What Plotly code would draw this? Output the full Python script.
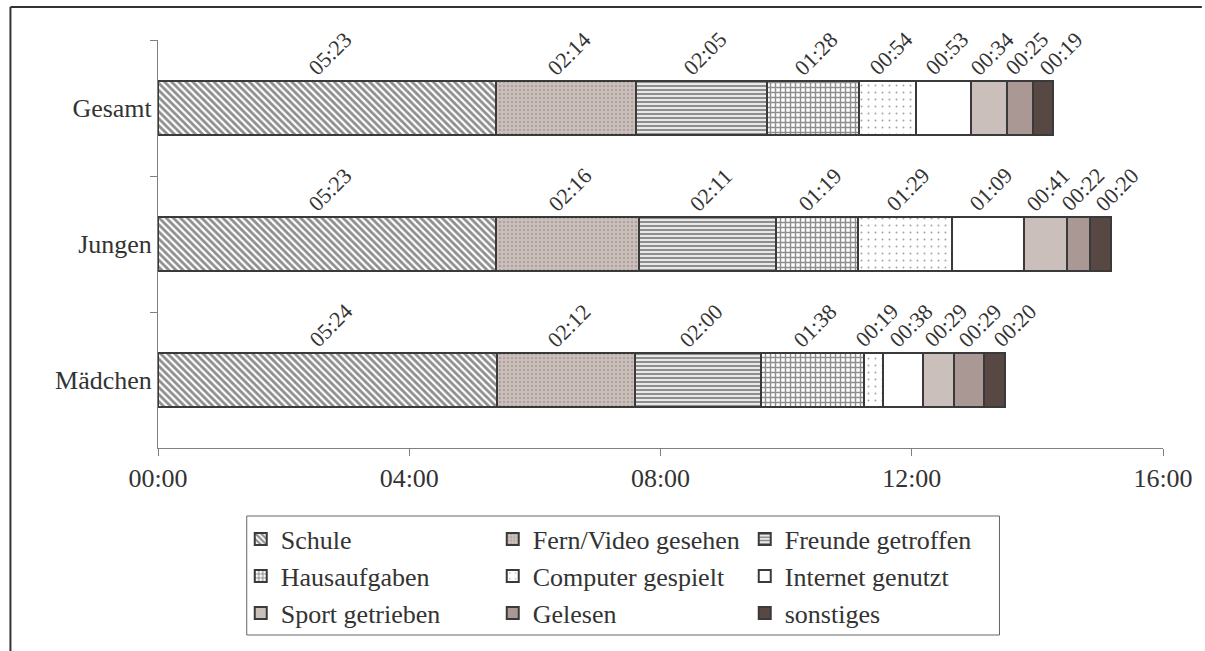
import plotly.graph_objects as go

# ---------------- data ----------------
categories = ["Gesamt", "Jungen", "Mädchen"]
activities = ["Schule", "Fern/Video gesehen", "Freunde getroffen", "Hausaufgaben",
              "Computer gespielt", "Internet genutzt", "Sport getrieben", "Gelesen", "sonstiges"]
schule = ["05:23", "05:23", "05:24"]
fernsehen = ["02:14", "02:16", "02:12"]
freunde = ["02:05", "02:11", "02:00"]
hausaufgaben = ["01:28", "01:19", "01:38"]
computer = ["00:54", "01:29", "00:19"]
internet = ["00:53", "01:09", "00:38"]
sport = ["00:34", "00:41", "00:29"]
gelesen = ["00:25", "00:22", "00:29"]
sonstiges = ["00:19", "00:20", "00:20"]
x_tickvals = [0, 4, 8, 12, 16]
x_ticktext = ["00:00", "04:00", "08:00", "12:00", "16:00"]

series = [schule, fernsehen, freunde, hausaufgaben, computer, internet, sport, gelesen, sonstiges]


def to_hours(s):
    h, m = s.split(":")
    return int(h) + int(m) / 60.0


# ---------------- styles ----------------
EDGE = "#3a3a3a"
styles = [
    dict(color="white", pattern=dict(shape="\\", fgcolor="#1e1e1e", bgcolor="white", size=5, solidity=0.55)),
    dict(color="#cabebb", pattern=dict(shape=".", fgcolor="#7e7370", bgcolor="#cabebb", size=4, solidity=0.2)),
    dict(color="white", pattern=dict(shape="-", fgcolor="#1e1e1e", bgcolor="white", size=4, solidity=0.6)),
    dict(color="white", pattern=dict(shape="+", fgcolor="#1e1e1e", bgcolor="white", size=5, solidity=0.5)),
    dict(color="white", pattern=dict(shape=".", fgcolor="#444444", bgcolor="white", size=7, solidity=0.06)),
    dict(color="white"),
    dict(color="#cbbfbb"),
    dict(color="#a99894"),
    dict(color="#574844"),
]
legend_rows = ["legend", "legend", "legend", "legend2", "legend2", "legend2", "legend3", "legend3", "legend3"]

W, H = 1205, 651
ML, MR, MT, MB = 158, 39, 40, 203
PW, PH = W - ML - MR, H - MT - MB


def px_x(px):
    return (px - ML) / PW


def px_y(py):
    return (H - MB - py) / PH


FONT = "Liberation Serif, Times New Roman, serif"
TXT = "#333333"

fig = go.Figure()
for name, vals, st, lg in zip(activities, series, styles, legend_rows):
    marker = dict(color=st["color"], line=dict(color=EDGE, width=2))
    if "pattern" in st:
        marker["pattern"] = st["pattern"]
    fig.add_trace(go.Bar(
        y=categories, x=[to_hours(v) for v in vals], orientation="h",
        name=name, marker=marker, legend=lg, hoverinfo="skip",
    ))

# ---------------- rotated value labels ----------------
annotations = []
min_gap = 0.55  # hours between label centres
for ci, cat in enumerate(categories):
    start = 0.0
    prev = -1e9
    for vals in series:
        v = to_hours(vals[ci])
        c = start + v / 2
        pos = max(c, prev + min_gap)
        prev = pos
        annotations.append(dict(
            x=pos, y=cat, xref="x", yref="y", text=vals[ci], showarrow=False,
            textangle=-45, xanchor="center", yanchor="bottom", yshift=25, xshift=3,
            font=dict(family=FONT, size=22, color=TXT),
        ))
        start += v

# ---------------- shapes: outer frame + legend box ----------------
shapes = [
    dict(type="line", xref="paper", yref="paper", x0=px_x(10), y0=px_y(7), x1=px_x(1205), y1=px_y(7),
         line=dict(color="#333333", width=2)),
    dict(type="line", xref="paper", yref="paper", x0=px_x(10), y0=px_y(7), x1=px_x(10), y1=px_y(651),
         line=dict(color="#333333", width=2)),
    dict(type="rect", xref="paper", yref="paper", x0=px_x(247), y0=px_y(516), x1=px_x(1002), y1=px_y(635),
         line=dict(color="#666666", width=1)),
]

leg_common = dict(orientation="h", xanchor="left", yanchor="middle", entrywidth=207,
                  entrywidthmode="pixels", traceorder="normal",
                  font=dict(family=FONT, size=26, color=TXT),
                  bgcolor="rgba(0,0,0,0)", borderwidth=0, x=px_x(241))

fig.update_layout(
    width=W, height=H,
    margin=dict(l=ML, r=MR, t=MT, b=MB),
    paper_bgcolor="white", plot_bgcolor="white",
    barmode="stack", bargap=0.6,
    font=dict(family=FONT, size=26, color=TXT),
    xaxis=dict(range=[0, 16], tickvals=x_tickvals, ticktext=x_ticktext, showgrid=False, zeroline=False,
               showline=True, linecolor="#808080", linewidth=1, ticks="outside", ticklen=7,
               tickcolor="#808080", tickfont=dict(family=FONT, size=26, color=TXT)),
    yaxis=dict(type="category", categoryorder="array", categoryarray=categories, range=[2.5, -0.5],
               showgrid=False, zeroline=False, showline=True, linecolor="#808080", linewidth=1,
               ticks="outside", ticklen=7, tickcolor="#808080", tickson="boundaries",
               tickfont=dict(family=FONT, size=26, color=TXT)),
    legend=dict(leg_common, y=px_y(539)),
    legend2=dict(leg_common, y=px_y(576)),
    legend3=dict(leg_common, y=px_y(613)),
    annotations=annotations,
    shapes=shapes,
    showlegend=True,
)

fig.write_html("out.html", config={"displayModeBar": False},
               post_script="document.body.style.margin='0';")
